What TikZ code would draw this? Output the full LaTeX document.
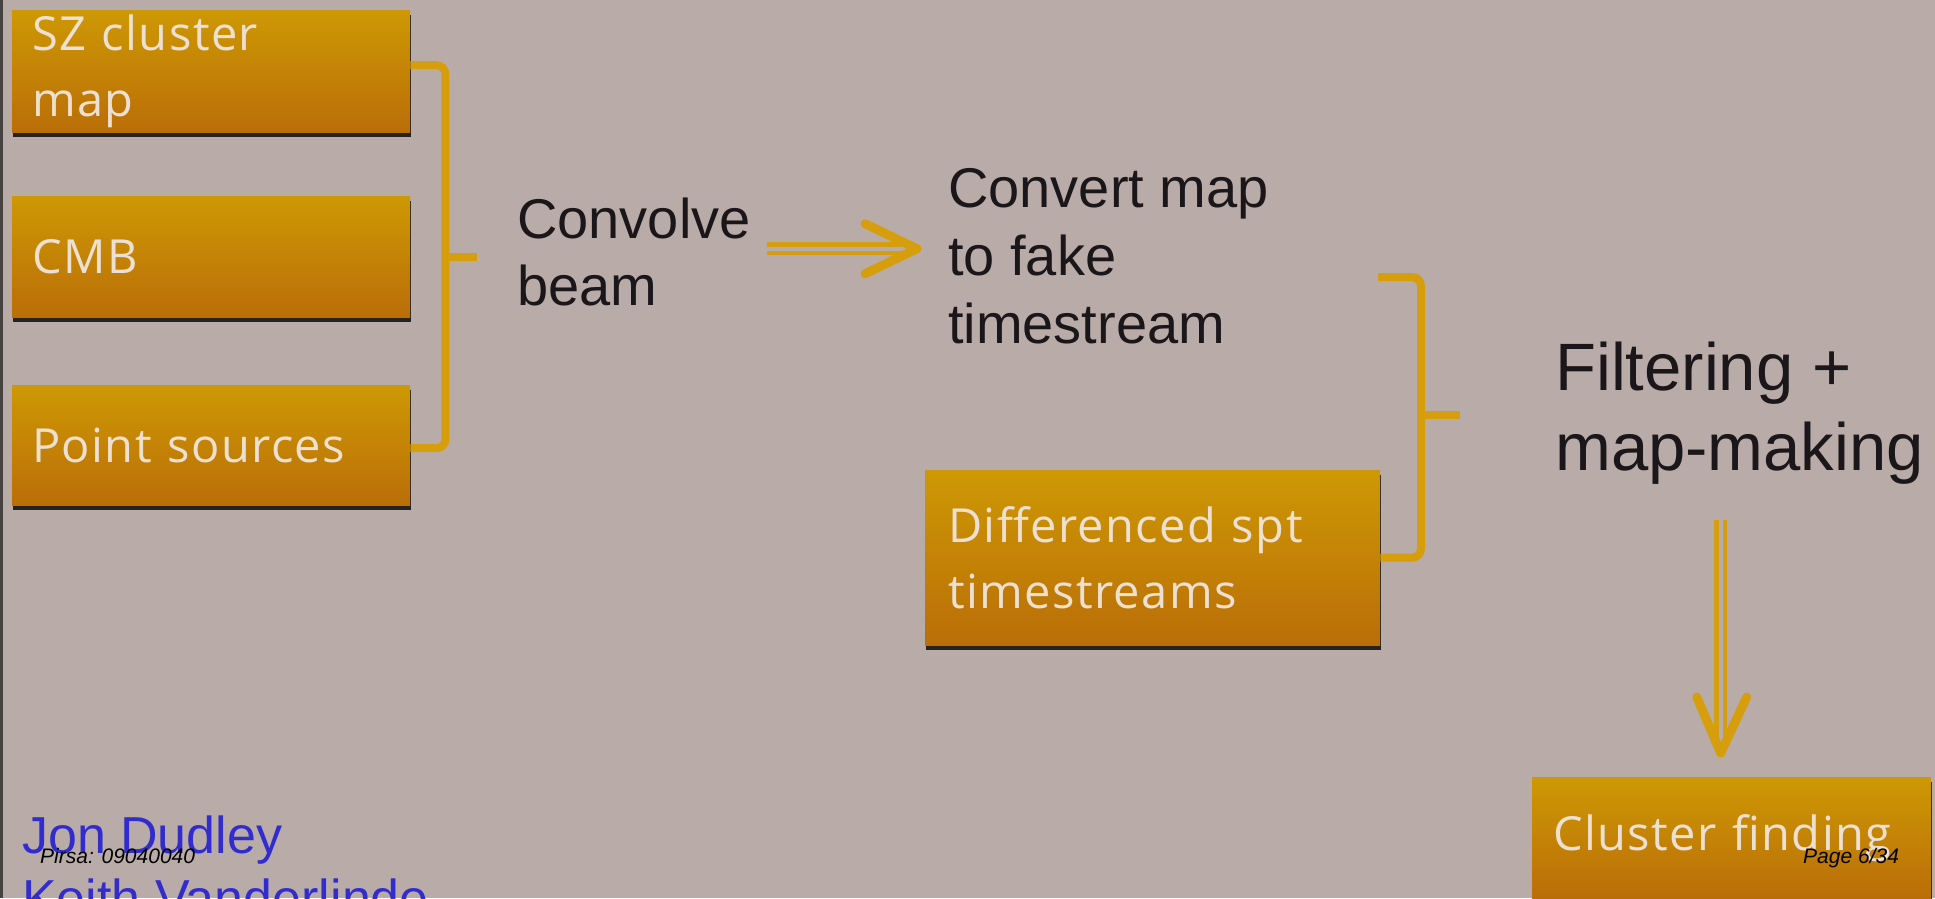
\documentclass[tikz,border=0pt]{standalone}
\usepackage{fontspec}
\setmainfont{Liberation Sans}
\newfontfamily\boxfont{Open Sans}[LetterSpace=3]
\usetikzlibrary{calc,shadows}

\definecolor{bg}{RGB}{185,172,168}
\definecolor{frame}{RGB}{70,66,66}
\definecolor{boxtop}{RGB}{206,152,4}
\definecolor{boxbot}{RGB}{186,110,8}
\definecolor{boxtext}{RGB}{236,224,210}
\definecolor{gold}{RGB}{214,158,12}
\definecolor{ink}{RGB}{26,22,26}
\definecolor{author}{RGB}{50,44,206}

\tikzset{
  stagebox/.style={rectangle, anchor=north west, inner ysep=0pt,
    top color=boxtop, bottom color=boxbot, text=boxtext, align=left,
    font=\boxfont\fontsize{47}{66}\selectfont,
    drop shadow={shadow xshift=1pt, shadow yshift=-5pt, opacity=.8, fill=black}},
  steplabel/.style={inner sep=0pt, anchor=base west, text=ink, align=left},
  bracket/.style={draw=gold, line width=8pt, rounded corners=9pt},
  flow/.style={draw=gold, line width=4.5pt, double=bg, double distance=4pt},
  barb/.style={draw=gold, line width=9pt, line cap=round, line join=round},
  footer/.style={inner sep=0pt, anchor=base west, text=black,
    font=\itshape\fontsize{21}{25}\selectfont},
}

\begin{document}
\begin{tikzpicture}[x=1pt,y=-1pt]
  % canvas
  \clip (0,0) rectangle (1935,898);
  \fill[bg] (0,0) rectangle (1935,898);
  \fill[frame] (0,0) rectangle (3,898);

  % input maps
  \node[stagebox, text width=358pt, inner xsep=20pt, minimum height=122pt] (sz) at (12,10) {SZ cluster\\map};
  \node[stagebox, text width=358pt, inner xsep=20pt, minimum height=121pt] (cmb) at (12,196) {CMB};
  \node[stagebox, text width=358pt, inner xsep=20pt, minimum height=120pt] (ps) at (12,385) {Point sources};

  % processing steps (anchored at the baseline of the last line)
  \node[steplabel, font=\fontsize{56}{67}\selectfont] (conv) at (517,305) {Convolve\\beam};
  \node[steplabel, font=\fontsize{56}{68}\selectfont] (convert) at (948,343) {Convert map\\to fake\\timestream};
  \node[stagebox, text width=409pt, inner xsep=23pt, minimum height=175pt] (diff) at (925,470) {Differenced spt\\timestreams};
  \node[steplabel, font=\fontsize{67}{80}\selectfont] (filt) at (1555,470) {Filtering +\\map-making};
  \node[stagebox, text width=357pt, inner xsep=21pt, minimum height=121pt] (cf) at (1532,777) {Cluster finding};

  % first bracket: maps combined
  \coordinate (b1mid) at ($(cmb.east)+(35,0)$);
  \coordinate (b1tick) at ($(b1mid)+(32,0)$);
  \draw[bracket] ([yshift=6pt]sz.east) -| (b1mid) |- ([yshift=-3pt]ps.east);
  \draw[bracket] (b1mid) -- (b1tick);

  % convolve -> convert
  \coordinate (t1) at ([xshift=-31pt,yshift=7pt]convert.west);
  \draw[flow] ([xshift=16pt]conv.east |- t1) -- ([xshift=-12pt]t1);
  \draw[barb] ($(t1)+(-52,-25)$) -- (t1) -- ($(t1)+(-52,25)$);

  % second bracket: timestreams combined
  \coordinate (b2top) at (1378,277);
  \coordinate (b2mid) at (1421,415);
  \coordinate (b2tick) at (1460,415);
  \draw[bracket] (b2top) -| (b2mid) |- (diff.east);
  \draw[bracket] (b2mid) -- (b2tick);

  % filtering -> cluster finding
  \coordinate (t2) at ([xshift=-11pt,yshift=24pt]cf.north);
  \draw[flow] ([xshift=-11pt]cf.north |- filt.south) ++(0,36) -- ([yshift=12pt]t2);
  \draw[barb] ($(t2)+(-24,-56)$) -- (t2) -- ($(t2)+(26,-56)$);

  % credits
  \node[steplabel, text=author, font=\fontsize{52}{63}\selectfont] (names) at (22,916) {Jon Dudley\\Keith Vanderlinde};
  \node[footer] (pirsa) at (40,863) {Pirsa: 09040040};
  \node[footer] (page) at (1803,863) {Page 6/34};
\end{tikzpicture}
\end{document}
